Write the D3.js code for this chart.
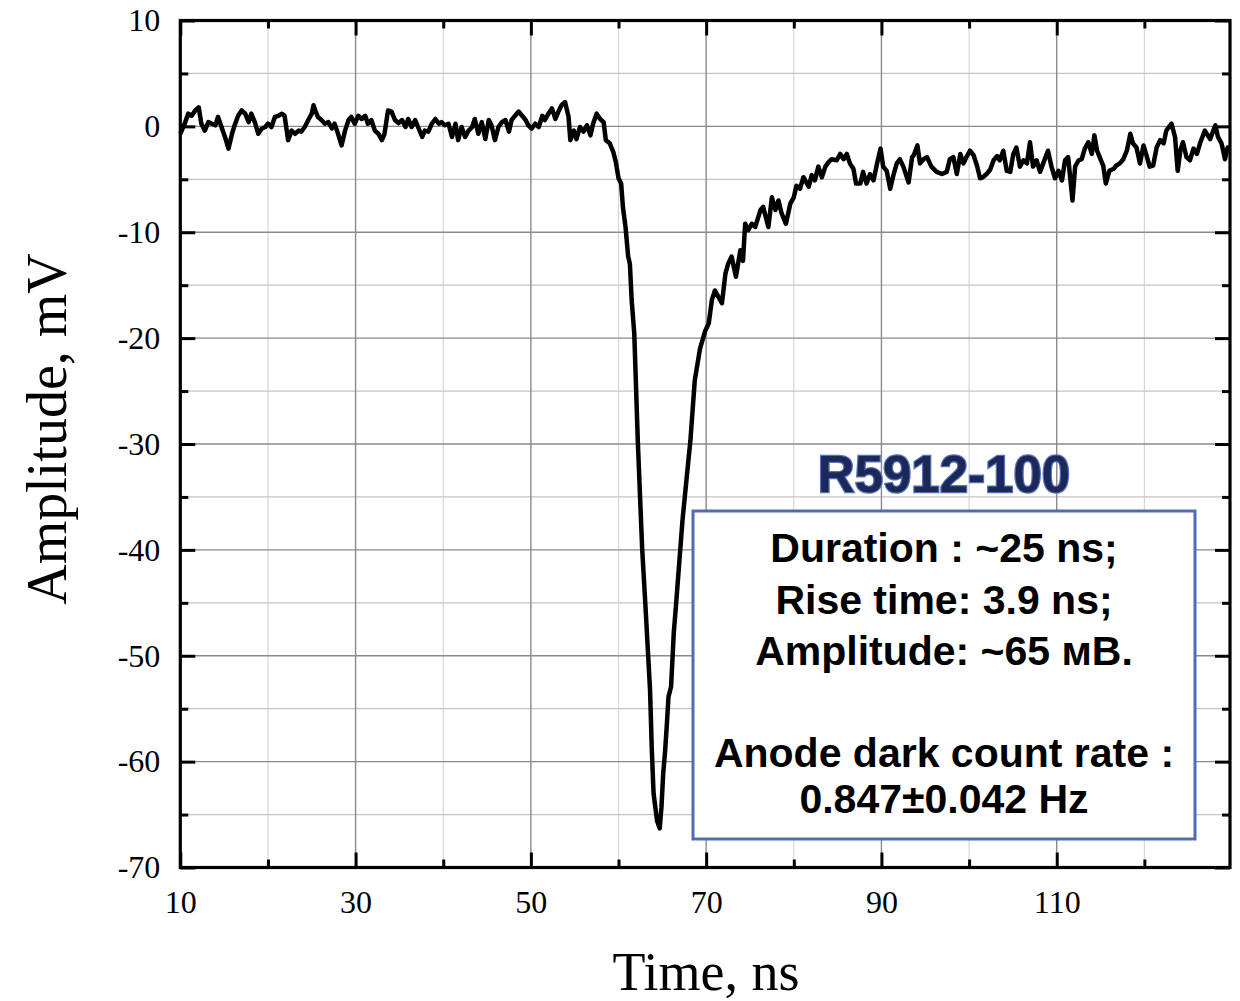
<!DOCTYPE html>
<html lang="en">

<head>
    <meta charset="UTF-8">
    <title>R5912-100 pulse</title>
    <script src="https://d3js.org/d3.v7.min.js"></script>
    <style>
        body {
            margin: 0;
            background: #fff;
        }
        .tick text {
            font-family: "Liberation Serif", "Times New Roman", serif;
            font-size: 32px;
            fill: #000;
        }
    </style>
</head>

<body>
    <svg id="chart" width="1240" height="1001"></svg>
    <script>
        // time, ns / amplitude, mV
        const baseline = [
            [10.0, -0.7], [10.5, 0.25], [10.9, 1.2], [11.3, 1.0], [11.7, 1.5], [12.1, 1.8], [12.4, 0.25], [12.8, -0.4],
            [13.2, 0.4], [13.6, 0.25], [14.0, 0.1], [14.3, 0.9], [14.7, -0.06], [15.1, -1.0], [15.5, -2.1], [15.9, -0.7],
            [16.2, 0.1], [16.6, 1.0], [17.0, 1.5], [17.4, 1.2], [17.8, 0.4], [18.1, 1.2], [18.5, 0.4], [18.9, -0.7],
            [19.3, -0.2], [19.7, -0.06], [20.0, 0.25], [20.4, -0.06], [20.8, 0.9], [21.2, 1.0], [21.6, 1.2], [21.9, 1.0],
            [22.3, -1.3], [22.7, -0.4], [23.1, -0.7], [23.5, -0.4], [23.8, -0.5], [24.2, -0.06], [24.6, 0.6], [25.0, 1.2],
            [25.2, 2.0], [25.4, 1.5], [25.7, 0.9], [26.1, 0.6], [26.5, 0.25], [26.9, 0.4], [27.3, -0.2], [27.6, 0.25],
            [28.0, -0.7], [28.4, -1.8], [28.8, -0.4], [29.2, 0.6], [29.5, 0.9], [29.9, 0.25], [30.3, 1.0], [30.7, 0.7],
            [31.1, 1.0], [31.4, 0.25], [31.8, 0.6], [32.2, -0.4], [32.6, -0.7], [33.0, -1.3], [33.3, -0.7], [33.7, 1.5],
            [34.1, 1.4], [34.5, 0.6], [34.9, 0.3], [35.3, 0.6], [35.7, -0.06], [36.0, 0.7], [36.4, -0.06], [36.8, 0.6],
            [37.2, -0.2], [37.6, -1.0], [37.9, -0.4], [38.3, -0.5], [38.7, 0.25], [39.1, 0.7], [39.5, 0.25], [39.8, 0.4],
            [40.2, 0.1], [40.6, 0.25], [41.0, -1.0], [41.4, 0.25], [41.7, -1.3], [42.1, -0.06], [42.5, -1.0], [42.9, -0.4],
            [43.3, -0.06], [43.6, 0.7], [44.0, -0.7], [44.4, 0.4], [44.8, -1.2], [45.2, 0.6], [45.5, 0.1], [45.9, -1.3],
            [46.3, -0.06], [46.7, 0.4], [47.1, 0.6], [47.5, -0.5], [47.8, 0.6], [48.2, 1.0], [48.6, 1.4], [49.0, 1.0],
            [49.4, 0.6], [49.7, 0.1], [50.1, -0.2], [50.5, 0.25], [50.9, -0.06], [51.3, 1.0], [51.6, 0.6], [52.0, 1.2],
            [52.4, 1.7], [52.8, 0.7], [53.2, 1.5], [53.5, 2.0], [53.9, 2.3], [54.3, 0.9], [54.5, -1.3], [54.9, -0.4],
            [55.2, -1.2], [55.6, -0.06], [56.0, -0.5], [56.4, 0.1], [56.8, -0.85], [57.1, 0.25], [57.5, 1.2], [57.9, 0.7],
            [58.3, 0.4]
        ];
        const pulse = [
            [58.55, -1.3], [59.0, -1.6], [59.4, -2.4], [59.7, -3.4], [60.0, -4.9], [60.3, -5.4], [60.5, -7.6], [60.8, -9.5],
            [61.1, -12.3], [61.3, -13.0], [61.5, -16.4], [61.8, -19.6], [62.2, -29.7], [62.7, -39.9], [63.04, -44.8],
            [63.6, -53.3], [63.8, -58.9], [64.0, -63.0], [64.4, -65.6], [64.7, -66.3], [64.9, -64.3], [65.1, -61.1],
            [65.3, -59.2], [65.5, -56.7], [65.7, -53.9], [66.0, -52.9], [66.3, -47.9], [66.6, -44.8], [67.3, -37.2],
            [67.8, -33.0], [68.2, -29.7], [68.7, -24.0], [69.3, -21.0], [69.9, -19.3], [70.3, -18.6], [70.65, -16.4],
            [71.0, -15.5], [71.4, -16.1], [71.8, -16.7], [72.2, -13.9], [72.5, -13.0], [72.9, -12.3], [73.4, -14.2],
            [73.9, -11.7], [74.2, -12.7], [74.45, -9.2], [74.8, -9.8], [75.2, -9.2], [75.6, -9.5], [76.2, -7.9],
            [76.5, -7.6], [77.1, -9.5], [77.5, -6.7], [77.9, -7.9], [78.25, -7.0], [78.6, -8.2], [79.1, -9.2],
            [79.6, -7.3], [80.0, -6.7], [80.3, -5.6], [80.7, -5.9], [81.1, -4.8], [81.7, -5.7], [82.05, -4.6],
            [82.4, -5.1], [82.8, -3.8], [83.2, -4.8], [83.6, -3.8], [83.95, -3.4], [84.3, -3.1], [84.9, -3.2]
        ];
        const tail = [
            [85.3, -2.6], [85.7, -3.1], [86.05, -2.6], [86.4, -3.5], [86.8, -4.0], [87.1, -5.4], [87.6, -5.4], [87.9, -4.3],
            [88.3, -5.4], [88.7, -4.5], [89.1, -5.1], [89.5, -3.5], [89.9, -2.1], [90.2, -3.8], [90.6, -4.2], [91.0, -5.9],
            [91.4, -4.5], [91.75, -3.5], [92.1, -3.1], [92.5, -3.8], [93.1, -5.3], [93.5, -2.9], [93.7, -2.7], [94.1, -1.8],
            [94.4, -3.5], [94.8, -3.1], [95.2, -2.9], [95.7, -3.8], [96.3, -4.3], [96.9, -4.5], [97.45, -4.3], [97.8, -3.1],
            [98.2, -2.9], [98.6, -4.5], [99.0, -2.6], [99.35, -3.5], [99.7, -2.9], [100.1, -2.3], [100.5, -2.7],
            [100.9, -3.7], [101.25, -4.9], [101.6, -4.8], [102.0, -4.5], [102.4, -4.1], [102.8, -3.2], [103.2, -2.8],
            [103.5, -3.2], [103.9, -2.3], [104.3, -4.2], [104.7, -4.3], [105.05, -2.6], [105.4, -2.0], [105.8, -3.8],
            [106.2, -3.2], [106.6, -3.5], [106.95, -1.5], [107.3, -3.8], [107.7, -3.2], [108.1, -4.3], [108.5, -3.4],
            [109.0, -2.3], [109.4, -3.8], [109.8, -4.9], [110.2, -4.2], [110.6, -5.1], [110.95, -3.2], [111.3, -2.9],
            [111.8, -7.0], [112.1, -3.8], [112.5, -3.2], [112.85, -3.1], [113.2, -2.1], [113.6, -1.5], [114.0, -2.6],
            [114.3, -0.85], [114.6, -2.3], [114.9, -2.9], [115.3, -3.7], [115.6, -5.4], [116.0, -4.2], [116.5, -4.0],
            [116.8, -3.7], [117.2, -3.5], [117.6, -3.1], [118.0, -2.3], [118.4, -0.7], [118.7, -1.6], [119.1, -2.0],
            [119.5, -3.5], [119.9, -1.8], [120.3, -2.9], [120.6, -3.8], [121.0, -3.7], [121.4, -2.0], [121.8, -1.3],
            [122.2, -1.6], [122.5, -0.4], [123.1, 0.25], [123.5, -1.0], [123.8, -4.2], [124.1, -2.3], [124.4, -1.5],
            [124.8, -2.9], [125.2, -3.2], [125.6, -2.1], [126.0, -2.6], [126.35, -1.6], [126.9, -0.4], [127.5, -1.2],
            [128.1, 0.1], [128.4, -1.0], [128.8, -1.6], [129.2, -3.1], [129.5, -2.0], [129.7, -2.3]
        ];

        const xMajor = [10, 30, 50, 70, 90, 110];
        const xMinor = [20, 40, 60, 80, 100, 120];
        const yMajor = [10, 0, -10, -20, -30, -40, -50, -60, -70];
        const yMinor = [5, -5, -15, -25, -35, -45, -55, -65];

        const title = "R5912-100";
        const infoLines = [
            "Duration : ~25 ns;",
            "Rise time: 3.9 ns;",
            "Amplitude: ~65 мВ.",
            "",
            "Anode dark count rate :",
            "0.847±0.042 Hz"
        ];

        const svg = d3.select("#chart");

        const plotLeft = 180.3, plotRight = 1230, plotTop = 20.5, plotBottom = 867.5;
        const x = d3.scaleLinear().domain([10, 129.77]).range([plotLeft, plotRight]);
        const y = d3.scaleLinear().domain([-70, 10]).range([plotBottom, plotTop]);

        // grid
        const grid = svg.append("g");
        grid.selectAll(".vminor").data(xMinor).enter().append("line")
            .attr("x1", d => x(d)).attr("x2", d => x(d))
            .attr("y1", plotTop).attr("y2", plotBottom)
            .attr("stroke", "#d6d6d6").attr("stroke-width", 1.2);
        grid.selectAll(".hminor").data(yMinor).enter().append("line")
            .attr("x1", plotLeft).attr("x2", plotRight)
            .attr("y1", d => y(d)).attr("y2", d => y(d))
            .attr("stroke", "#c4c4c4").attr("stroke-width", 1.2);
        grid.selectAll(".vmajor").data(xMajor).enter().append("line")
            .attr("x1", d => x(d)).attr("x2", d => x(d))
            .attr("y1", plotTop).attr("y2", plotBottom)
            .attr("stroke", "#8a8a8a").attr("stroke-width", 1.4);
        grid.selectAll(".hmajor").data(yMajor).enter().append("line")
            .attr("x1", plotLeft).attr("x2", plotRight)
            .attr("y1", d => y(d)).attr("y2", d => y(d))
            .attr("stroke", "#8a8a8a").attr("stroke-width", 1.4);

        // trace
        const line = d3.line().x(d => x(d[0])).y(d => y(d[1]));
        svg.append("path")
            .datum(baseline.concat(pulse, tail))
            .attr("d", line)
            .attr("fill", "none")
            .attr("stroke", "#000")
            .attr("stroke-width", 4.5)
            .attr("stroke-linejoin", "round");

        // axes, ticks pointing inward on all four sides
        const plain = d => String(d);
        function styleAxis(g, width) {
            g.select(".domain").remove();
            g.selectAll(".tick line").attr("stroke-width", width);
        }
        svg.append("g").attr("transform", `translate(0,${plotBottom})`)
            .call(d3.axisBottom(x).tickValues(xMajor).tickSize(-15).tickPadding(23).tickFormat(plain))
            .call(g => styleAxis(g, 3));
        svg.append("g").attr("transform", `translate(0,${plotBottom})`)
            .call(d3.axisBottom(x).tickValues(xMinor).tickSize(-8).tickFormat(""))
            .call(g => styleAxis(g, 3));
        svg.append("g").attr("transform", `translate(0,${plotTop})`)
            .call(d3.axisTop(x).tickValues(xMajor).tickSize(-15).tickFormat(""))
            .call(g => styleAxis(g, 3));
        svg.append("g").attr("transform", `translate(0,${plotTop})`)
            .call(d3.axisTop(x).tickValues(xMinor).tickSize(-8).tickFormat(""))
            .call(g => styleAxis(g, 3));
        svg.append("g").attr("transform", `translate(${plotLeft},0)`)
            .call(d3.axisLeft(y).tickValues(yMajor).tickSize(-15).tickPadding(20).tickFormat(plain))
            .call(g => styleAxis(g, 3));
        svg.append("g").attr("transform", `translate(${plotLeft},0)`)
            .call(d3.axisLeft(y).tickValues(yMinor).tickSize(-8).tickFormat(""))
            .call(g => styleAxis(g, 3));
        svg.append("g").attr("transform", `translate(${plotRight},0)`)
            .call(d3.axisRight(y).tickValues(yMajor).tickSize(-15).tickFormat(""))
            .call(g => styleAxis(g, 3));
        svg.append("g").attr("transform", `translate(${plotRight},0)`)
            .call(d3.axisRight(y).tickValues(yMinor).tickSize(-8).tickFormat(""))
            .call(g => styleAxis(g, 3));
        svg.selectAll("g[font-family]").attr("font-family", null).attr("font-size", null);

        // frame
        svg.append("rect")
            .attr("x", plotLeft).attr("y", plotTop)
            .attr("width", plotRight - plotLeft).attr("height", plotBottom - plotTop)
            .attr("fill", "none").attr("stroke", "#000").attr("stroke-width", 3.2);

        // axis titles
        svg.append("text")
            .attr("x", 706).attr("y", 990)
            .attr("text-anchor", "middle")
            .style("font-family", "'Liberation Serif', 'Times New Roman', serif")
            .style("font-size", "54px")
            .text("Time, ns");
        svg.append("text")
            .attr("transform", "translate(66,429) rotate(-90)")
            .attr("text-anchor", "middle")
            .style("font-family", "'Liberation Serif', 'Times New Roman', serif")
            .style("font-size", "56px")
            .text("Amplitude, mV");

        // annotation
        const boxX = 693, boxY = 511, boxW = 502, boxH = 328;
        const cx = boxX + boxW / 2;
        svg.append("text")
            .attr("x", cx).attr("y", 492)
            .attr("text-anchor", "middle")
            .style("font-family", "'Liberation Sans', Arial, sans-serif")
            .style("font-weight", "bold")
            .style("font-size", "51px")
            .attr("fill", "#1c2858")
            .attr("stroke", "#5572bd")
            .attr("stroke-width", 2.4)
            .attr("paint-order", "stroke")
            .text(title);

        svg.append("rect")
            .attr("x", boxX).attr("y", boxY)
            .attr("width", boxW).attr("height", boxH)
            .attr("fill", "#fff")
            .attr("stroke", "#4f6cb6")
            .attr("stroke-width", 3);

        const baselines = [562, 614, 665, 716, 767, 813];
        svg.selectAll(".info").data(infoLines).enter().append("text")
            .attr("x", cx)
            .attr("y", (d, i) => baselines[i])
            .attr("text-anchor", "middle")
            .style("font-family", "'Liberation Sans', Arial, sans-serif")
            .style("font-weight", "bold")
            .style("font-size", "41px")
            .text(d => d);
    </script>
</body>
</html>
